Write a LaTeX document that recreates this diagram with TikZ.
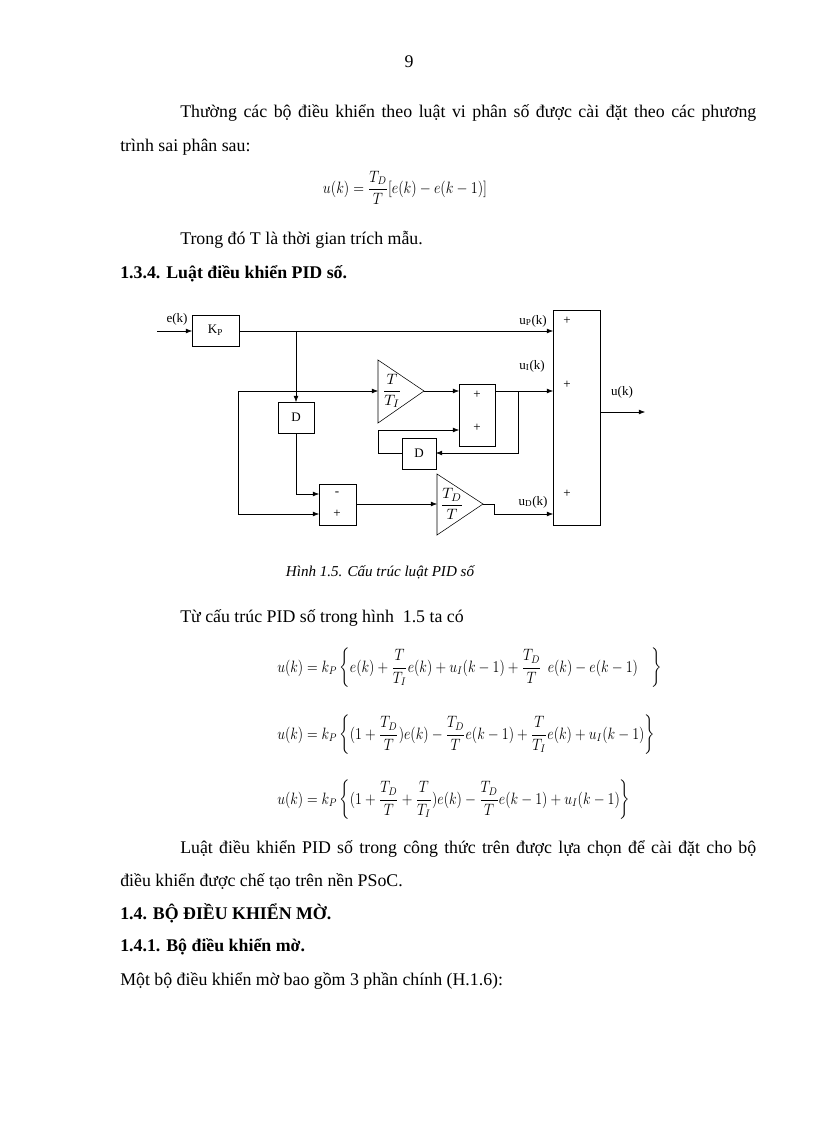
\documentclass[tikz,border=0pt]{standalone}
\usepackage{fontspec}
\setmainfont{Liberation Serif}
\usepackage{amsmath}
\usepackage{graphicx}
\usetikzlibrary{arrows.meta}
\begin{document}
\begin{tikzpicture}[x=0.7292pt,y=-0.7292pt,
  txt/.style={anchor=base west,inner sep=0pt,font=\fontsize{13}{15}\selectfont},
  bx/.style={draw,thin,inner sep=0pt},
  lbl/.style={inner sep=0pt,font=\fontsize{9.5}{11}\selectfont},
  ln/.style={thin},
  ar/.style={thin,-{Latex[length=4.5pt,width=3.5pt]}}]
\useasboundingbox (0,0) rectangle (816,1123);
% text
\node[txt,anchor=base] (pg) at (409,68) {9};
\node[txt] (p1) at (180,118) {\makebox[420pt][s]{Thường các bộ điều khiển theo luật vi phân số được cài đặt theo các phương}};
\node[txt] (p2) at (120,152) {trình sai phân sau:};
\node[txt,anchor=center] (eq0) at (405,188) {\scalebox{0.86}[1]{\fontsize{11.5}{13}\selectfont $u(k)=\dfrac{T_D}{T}[e(k)-e(k-1)]$}};
\node[txt] (p3) at (180,245) {Trong đó T là thời gian trích mẫu.};
\node[txt] (h1) at (120,279) {\bfseries 1.3.4. Luật điều khiển PID số.};
\node[txt,anchor=base] (cap) at (380,576) {\fontsize{11}{13}\selectfont\itshape Hình 1.5. Cấu trúc luật PID số};
\node[txt] (p4) at (180,622) {Từ cấu trúc PID số trong hình~ 1.5 ta có};
\node[txt,anchor=west] (eq1) at (277,668) {\scalebox{0.85}[1]{\fontsize{11.5}{13}\selectfont $u(k)=k_P\left\{e(k)+\dfrac{T}{T_I}e(k)+u_I(k-1)+\dfrac{T_D}{T}\;\,e(k)-e(k-1)\quad\right\}$}};
\node[txt,anchor=west] (eq2) at (277,735) {\scalebox{0.85}[1]{\fontsize{11.5}{13}\selectfont $u(k)=k_P\left\{(1+\dfrac{T_D}{T})e(k)-\dfrac{T_D}{T}e(k-1)+\dfrac{T}{T_I}e(k)+u_I(k-1)\right\}$}};
\node[txt,anchor=west] (eq3) at (277,800) {\scalebox{0.85}[1]{\fontsize{11.5}{13}\selectfont $u(k)=k_P\left\{(1+\dfrac{T_D}{T}+\dfrac{T}{T_I})e(k)-\dfrac{T_D}{T}e(k-1)+u_I(k-1)\right\}$}};
\node[txt] (p5) at (180,853) {\makebox[420pt][s]{Luật điều khiển PID số trong công thức trên được lựa chọn để cài đặt cho bộ}};
\node[txt] (p6) at (120,886) {điều khiển được chế tạo trên nền PSoC.};
\node[txt] (h2) at (120,919) {\bfseries 1.4. BỘ ĐIỀU KHIỂN MỜ.};
\node[txt] (h3) at (120,951) {\bfseries 1.4.1. Bộ điều khiển mờ.};
\node[txt] (p7) at (120,985) {Một bộ điều khiển mờ bao gồm 3 phần chính (H.1.6):};
% diagram blocks
\coordinate (ein) at (157,331);
\draw[bx] (192,315) rectangle (239,346); \node[lbl] (kp) at (215.5,330.5) {K$_\mathrm{P}$};
\coordinate (kpW) at (192,331); \coordinate (kpE) at (239,331);
\draw[bx] (553,310) rectangle (600,525);
\node[lbl] at (567,321) {+}; \node[lbl] at (567,385) {+}; \node[lbl] at (567,494) {+};
\draw[bx] (278,402) rectangle (314,433); \node[lbl] (d1) at (296,417.5) {D};
\draw[bx] (459,384) rectangle (495,446);
\node[lbl] at (477,395) {+}; \node[lbl] at (477,428) {+};
\draw[bx] (402,438) rectangle (436,469); \node[lbl] (d2) at (419,453.5) {D};
\draw[bx] (319,484) rectangle (356,525);
\node[lbl] at (337,494) {-}; \node[lbl] at (337,514) {+};
\draw[ln] (378,360) -- (424,391) -- (378,423) -- cycle;
\node[lbl,font=\fontsize{11}{13}\selectfont] at (392,391) {$\dfrac{T}{T_I}$};
\draw[ln] (437,474) -- (483,504) -- (437,535) -- cycle;
\node[lbl,font=\fontsize{11}{13}\selectfont] at (452,504) {$\dfrac{T_D}{T}$};
% labels
\node[lbl] at (177,319) {e(k)};
\node[lbl] at (533,321) {u$_\mathrm{P}$(k)};
\node[lbl] at (532,366) {u$_\mathrm{I}$(k)};
\node[lbl] at (533,502) {u$_\mathrm{D}$(k)};
\node[lbl] at (622,392) {u(k)};
% connectors
\draw[ar] (ein) -- (kpW);
\draw[ar] (kpE) -- (553,331);
\draw[ar] (296,331) -- (296,402);
\draw[ar] (238,391) -- (378,391);
\draw[ar] (238,391) -- (238,514) -- (319,514);
\draw[ar] (424,391) -- (459,391);
\draw[ar] (495,391) -- (553,391);
\draw[ar] (518,391) -- (518,453) -- (436,453);
\draw[ar] (402,453) -- (378,453) -- (378,430) -- (459,430);
\draw[ar] (296,433) -- (296,494) -- (319,494);
\draw[ar] (356,504) -- (437,504);
\draw[ar] (483,504) -- (494,504) -- (494,514) -- (553,514);
\draw[ar] (600,412) -- (645,412);
\end{tikzpicture}
\end{document}
